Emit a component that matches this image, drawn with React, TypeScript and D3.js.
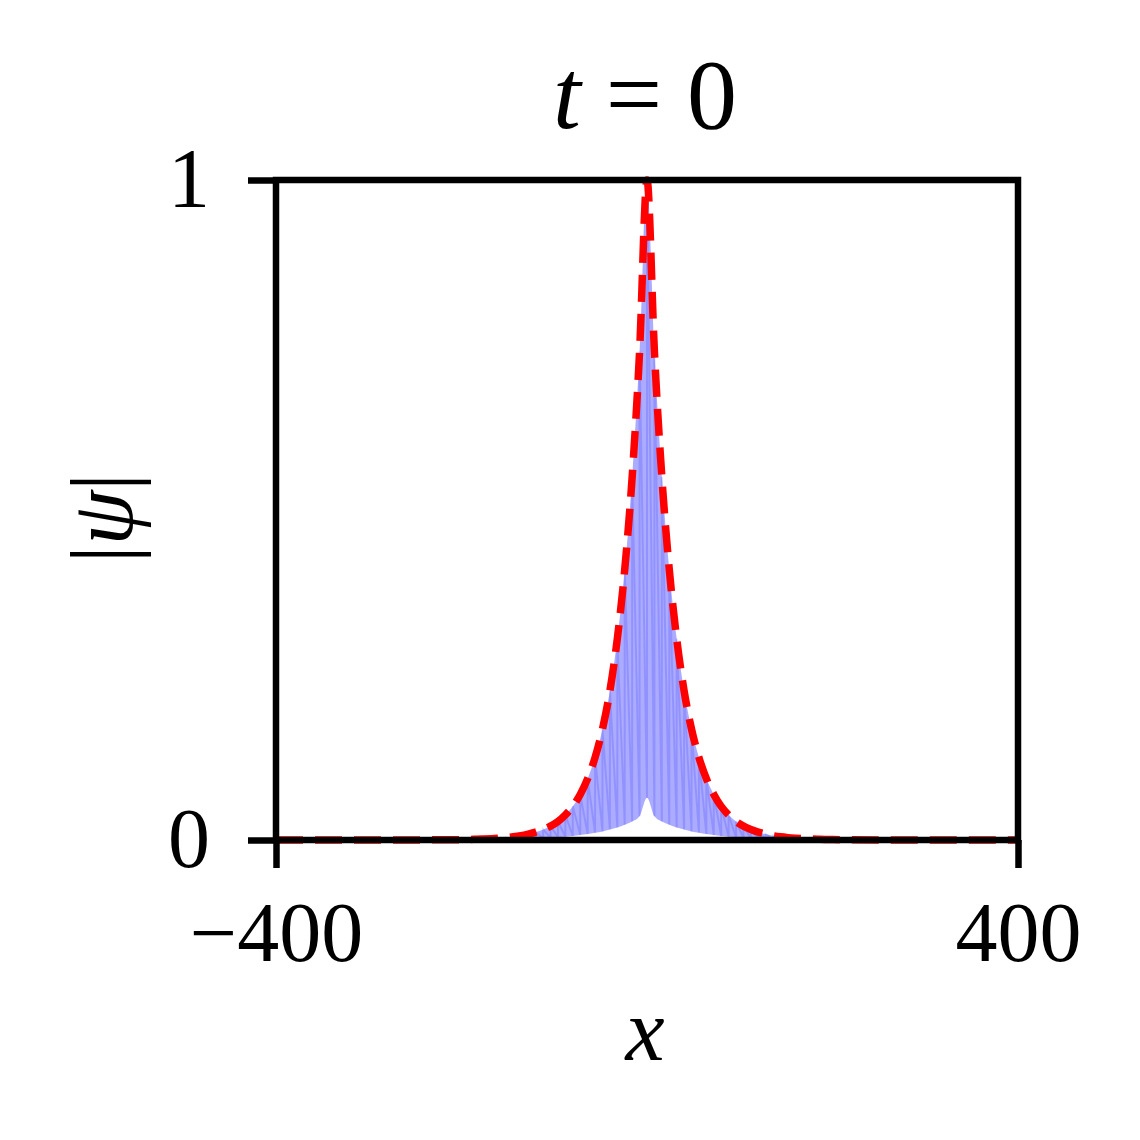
import React, { useEffect, useRef } from 'react';
import * as d3 from 'd3';

// sample positions of the oscillating field (x units)
const gridX: number[] = d3.range(-200, 201, 8);

// upper edge of |psi| oscillation
const psiUpper: number[] = [
  0.0006, 0.0008, 0.0011, 0.0015, 0.002, 0.0027, 0.0036, 0.0048, 0.0065, 0.009,
  0.012, 0.016, 0.021, 0.028, 0.038, 0.051, 0.069, 0.093, 0.125, 0.168,
  0.226, 0.305, 0.41, 0.55, 0.74, 1.0, 0.74, 0.55, 0.41, 0.305,
  0.226, 0.168, 0.125, 0.093, 0.069, 0.051, 0.038, 0.028, 0.021, 0.016,
  0.012, 0.009, 0.0065, 0.0048, 0.0036, 0.0027, 0.002, 0.0015, 0.0011, 0.0008,
  0.0006,
];

// lower edge of |psi| oscillation (cusp at the centre)
const psiLower: number[] = [
  0, 0.0001, 0.0002, 0.0003, 0.0004, 0.0005, 0.0007, 0.0009, 0.0012, 0.0016,
  0.002, 0.0026, 0.0033, 0.0042, 0.005, 0.006, 0.0075, 0.009, 0.011, 0.013,
  0.016, 0.019, 0.023, 0.028, 0.036, 0.064, 0.036, 0.028, 0.023, 0.019,
  0.016, 0.013, 0.011, 0.009, 0.0075, 0.006, 0.005, 0.0042, 0.0033, 0.0026,
  0.002, 0.0016, 0.0012, 0.0009, 0.0007, 0.0005, 0.0004, 0.0003, 0.0002, 0.0001,
  0,
];

// red dashed envelope
const envX: number[] = [-400, -300, ...gridX, 300, 400];
const envY: number[] = [0, 0, ...psiUpper, 0, 0];

const xTicks = [-400, 400];
const yTicks = [0, 1];

const FONT = "'Liberation Serif', 'Times New Roman', serif";

export default function App() {
  const svgRef = useRef<SVGSVGElement>(null);

  useEffect(() => {
    const svg = d3.select(svgRef.current);
    const margin = { top: 180, right: 122, bottom: 300, left: 276 };
    const W = 1140;
    const H = 1140;
    const width = W - margin.left - margin.right;
    const height = H - margin.top - margin.bottom;

    const x = d3.scaleLinear().domain([-400, 400]).range([0, width]);
    const y = d3.scaleLinear().domain([0, 1]).range([height, 0]);

    const g = svg
      .select('.plot')
      .attr('transform', `translate(${margin.left}, ${margin.top})`);

    // filled band between oscillation edges
    const area = d3
      .area<number>()
      .x((d, i) => x(gridX[i]))
      .y0((d, i) => y(psiLower[i]))
      .y1((d) => y(d))
      .curve(d3.curveMonotoneX);

    g.select('.band')
      .attr('d', area(psiUpper))
      .attr('fill', '#0000ff')
      .attr('fill-opacity', 0.33);

    // the fast oscillation itself
    const pts: [number, number][] = gridX.flatMap((gx, i) => [
      [gx, psiLower[i]] as [number, number],
      [gx, psiUpper[i]] as [number, number],
    ]);
    const osc = d3
      .line<[number, number]>()
      .x((d) => x(d[0]))
      .y((d) => y(d[1]));

    g.select('.osc')
      .attr('d', osc(pts))
      .attr('fill', 'none')
      .attr('stroke', '#0000ff')
      .attr('stroke-opacity', 0.14)
      .attr('stroke-width', 2);

    const env = d3
      .line<number>()
      .x((d, i) => x(envX[i]))
      .y((d) => y(d))
      .curve(d3.curveMonotoneX);

    g.select('.env')
      .attr('d', env(envY))
      .attr('fill', 'none')
      .attr('stroke', '#ff0000')
      .attr('stroke-width', 7.5)
      .attr('stroke-dasharray', '27,12');

    g.select('.frame')
      .attr('x', 0)
      .attr('y', 0)
      .attr('width', width)
      .attr('height', height)
      .attr('fill', 'none')
      .attr('stroke', '#000')
      .attr('stroke-width', 6.5);

    const xAxis = g
      .select('.x-axis')
      .attr('transform', `translate(0, ${height})`)
      .call(
        d3
          .axisBottom(x)
          .tickValues(xTicks)
          .tickSize(28)
          .tickPadding(33)
          .tickFormat(d3.format('d')) as any
      );
    xAxis.select('.domain').remove();
    xAxis.selectAll('.tick line').attr('stroke', '#000').attr('stroke-width', 6.5);
    xAxis
      .selectAll('.tick text')
      .attr('fill', '#000')
      .style('font-family', FONT)
      .style('font-size', '84px');

    const yAxis = g
      .select('.y-axis')
      .call(
        d3
          .axisLeft(y)
          .tickValues(yTicks)
          .tickSize(28)
          .tickPadding(38)
          .tickFormat(d3.format('d')) as any
      );
    yAxis.select('.domain').remove();
    yAxis.selectAll('.tick line').attr('stroke', '#000').attr('stroke-width', 6.5);
    yAxis
      .selectAll('.tick text')
      .attr('fill', '#000')
      .style('font-family', FONT)
      .style('font-size', '84px');
  }, []);

  return (
    <svg
      ref={svgRef}
      width={1140}
      height={1140}
      style={{ position: 'absolute', left: 0, top: 0, background: '#fff' }}
    >
      <g className='plot'>
        <path className='band' />
        <path className='osc' />
        <path className='env' />
        <rect className='frame' />
        <g className='x-axis' />
        <g className='y-axis' />
      </g>
      <text
        x={645}
        y={128}
        textAnchor='middle'
        fontFamily={FONT}
        fontSize={100}
        xmlSpace='preserve'
      >
        <tspan fontStyle='italic'>t</tspan>{' = 0'}
      </text>
      <text
        x={645}
        y={1060}
        textAnchor='middle'
        fontFamily={FONT}
        fontStyle='italic'
        fontSize={88}
      >
        x
      </text>
      <text
        transform='translate(132, 518) rotate(-90)'
        textAnchor='middle'
        fontFamily={FONT}
        fontSize={88}
      >
        |<tspan fontStyle='italic'>ψ</tspan>|
      </text>
    </svg>
  );
}
